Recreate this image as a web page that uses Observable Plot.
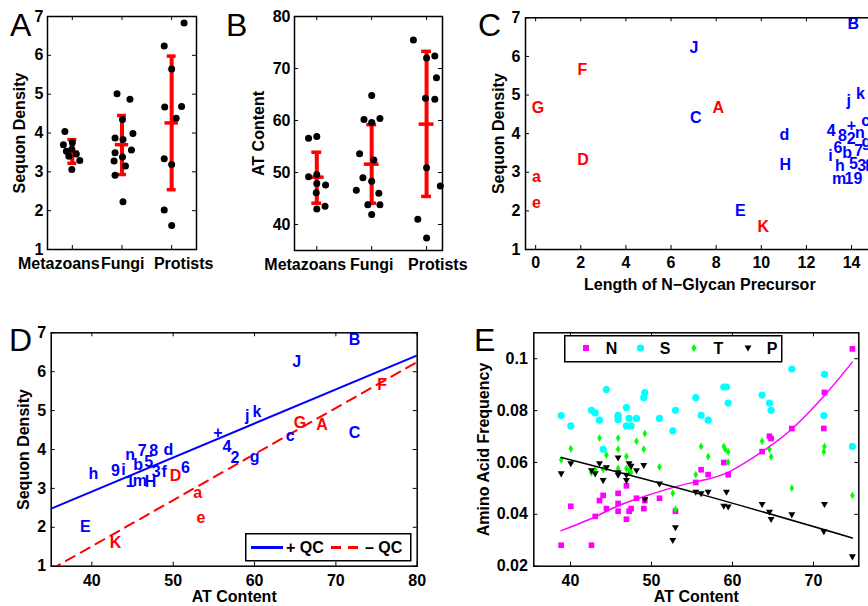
<!DOCTYPE html>
<html>
<head>
<meta charset="utf-8">
<script src="https://cdn.jsdelivr.net/npm/d3@7"></script>
<script src="https://cdn.jsdelivr.net/npm/@observablehq/plot@0.6"></script>
<style>
html,body{margin:0;padding:0;background:#fff;overflow:hidden}
#fig{position:relative;width:868px;height:606px;overflow:hidden;background:#fff;font-family:"Liberation Sans",Arial,Helvetica,sans-serif}
.panel{position:absolute}
.letter{position:absolute;font-size:32px;line-height:32px;font-weight:normal;color:#000}
.legend{position:absolute}
</style>
</head>
<body>
<div id="fig">
  <div class="panel" id="pA" style="left:0;top:0;width:220px;height:300px"></div>
  <div class="panel" id="pB" style="left:220px;top:0;width:240px;height:300px"></div>
  <div class="panel" id="pC" style="left:460px;top:0;width:420px;height:300px"></div>
  <div class="panel" id="pD" style="left:0;top:300px;width:430px;height:306px"></div>
  <div class="panel" id="pE" style="left:430px;top:300px;width:438px;height:306px"></div>
  <div class="letter" style="left:10px;top:9px">A</div>
  <div class="letter" style="left:226px;top:9px">B</div>
  <div class="letter" style="left:478px;top:9px">C</div>
  <div class="letter" style="left:9px;top:324px">D</div>
  <div class="letter" style="left:474px;top:324px">E</div>
  <svg class="legend" style="left:245px;top:533px" width="167" height="29">
    <rect x="0.75" y="0.75" width="165" height="27" fill="#fff" stroke="#000" stroke-width="1.5"/>
    <line x1="6" x2="38" y1="14.5" y2="14.5" stroke="#0000ff" stroke-width="3"/>
    <text x="41" y="20" font-family="Liberation Sans, Arial, sans-serif" font-size="16" font-weight="bold">+ QC</text>
    <line x1="86" x2="118" y1="14.5" y2="14.5" stroke="#ff0000" stroke-width="3" stroke-dasharray="10,7"/>
    <text x="120" y="20" font-family="Liberation Sans, Arial, sans-serif" font-size="16" font-weight="bold">– QC</text>
  </svg>
  <svg class="legend" style="left:564px;top:335px" width="220" height="28">
    <rect x="0.75" y="0.75" width="217" height="26" fill="#fff" stroke="#000" stroke-width="1.5"/>
    <rect x="19" y="10" width="6" height="6" fill="#ff00ff"/>
    <text x="47.5" y="19" text-anchor="middle" font-family="Liberation Sans, Arial, sans-serif" font-size="16" font-weight="bold">N</text>
    <circle cx="76.5" cy="13" r="3.6" fill="#00ffff"/>
    <text x="101" y="19" text-anchor="middle" font-family="Liberation Sans, Arial, sans-serif" font-size="16" font-weight="bold">S</text>
    <polygon points="130,9 132.6,13 130,17 127.4,13" fill="#00ff00"/>
    <text x="154.5" y="19" text-anchor="middle" font-family="Liberation Sans, Arial, sans-serif" font-size="16" font-weight="bold">T</text>
    <polygon points="180.5,10.5 187.5,10.5 184,16.5" fill="#000"/>
    <text x="208" y="19" text-anchor="middle" font-family="Liberation Sans, Arial, sans-serif" font-size="16" font-weight="bold">P</text>
  </svg>
</div>
<script>
// ---------- Panel A: Sequon density by group ----------
const groups = ["Metazoans", "Fungi", "Protists"];
const groupPos = [1, 2, 3];
const aDotX = [0.85,0.82,1.00,0.88,0.99,1.08,0.93,1.15,0.99,
               1.90,2.16,2.01,1.86,2.02,2.22,1.86,2.19,2.01,1.84,2.07,1.86,2.02,
               3.25,2.85,3.00,2.86,3.20,3.09,2.85,3.00,2.85,3.00];
const aDotY = [4.04,3.70,3.75,3.53,3.58,3.46,3.40,3.29,3.06,
               5.01,4.87,4.35,3.87,3.83,3.99,3.49,3.56,3.38,3.28,3.15,2.91,2.23,
               6.83,6.24,5.65,4.67,4.68,4.38,3.34,3.19,2.02,1.62];
const aMean = [3.51, 3.70, 4.26];
const aLow  = [3.22, 2.93, 2.54];
const aHigh = [3.83, 4.45, 5.98];
const aTicks = [1, 2, 3, 4, 5, 6, 7];

// ---------- Panel B: AT content by group ----------
const bDotX = [0.85,1.00,0.85,1.00,1.00,1.16,0.99,1.00,1.15,
               2.00,1.86,2.00,2.15,1.78,2.04,1.84,2.00,1.72,2.13,1.93,2.15,2.00,
               2.76,3.00,3.15,3.18,2.98,3.15,3.00,3.25,2.84,3.00];
const bDotY = [56.6,56.9,49.2,49.6,47.9,47.6,46.1,43.0,43.5,
               64.8,60.2,59.6,60.4,53.6,52.4,49.0,48.3,46.6,46.0,43.8,43.8,41.9,
               75.5,72.0,72.4,68.2,64.3,64.1,50.9,47.4,41.0,37.4];
const bMean = [49.1, 51.6, 59.3];
const bLow  = [44.1, 44.1, 45.4];
const bHigh = [53.9, 59.2, 73.3];
const bTicks = [40, 50, 60, 70, 80];

// ---------- Panel C: glycan precursor length vs sequon density ----------
const cLabel = ["G","a","e","F","D","A","K",
                "J","C","E","d","H","B","j","k","c","4","8","+","n","2","g","6","b","7","i","h","5","3","f","m","1","9"];
const cX = [0.10,0.04,0.04,2.07,2.10,8.09,10.09,
            7.02,7.10,9.07,11.02,11.06,14.08,13.88,14.40,14.63,13.10,13.60,14.00,14.37,13.99,14.66,13.40,13.80,14.32,13.07,13.48,14.08,14.45,14.70,13.45,13.88,14.28];
const cY = [4.67,2.87,2.21,5.65,3.33,4.66,1.59,
            6.21,4.40,2.01,3.97,3.18,6.83,4.86,5.03,4.34,4.06,3.95,4.21,4.01,3.87,3.78,3.63,3.49,3.56,3.42,3.17,3.23,3.17,3.17,2.83,2.83,2.83];
const cGroup = ["-","-","-","-","-","-","-",
                "+","+","+","+","+","+","+","+","+","+","+","+","+","+","+","+","+","+","+","+","+","+","+","+","+","+"];
const cXTicks = [0, 2, 4, 6, 8, 10, 12, 14];

// ---------- Panel D: AT content vs sequon density ----------
const dLabel = ["B","J","j","k","+","4","2","g","c","C","n","7","8","d","h","9","i","b","5","3","f","6","1","m","H","E",
                "G","A","F","D","K","a","e"];
const dX = [72.3,65.2,59.1,60.3,55.5,56.6,57.6,60.0,64.4,72.3,44.7,46.2,47.6,49.4,40.2,42.9,43.9,45.7,47.0,47.9,48.9,51.5,44.7,45.9,47.2,39.2,
            65.6,68.3,75.7,50.3,42.9,53.0,53.4];
const dY = [6.83,6.26,4.87,4.98,4.43,4.06,3.78,3.80,4.36,4.43,3.87,3.96,3.96,3.98,3.38,3.44,3.48,3.61,3.68,3.42,3.42,3.53,3.16,3.20,3.16,2.00,
            4.69,4.64,5.65,3.33,1.60,2.89,2.24];
const dGroup = ["+","+","+","+","+","+","+","+","+","+","+","+","+","+","+","+","+","+","+","+","+","+","+","+","+","+",
                "-","-","-","-","-","-","-"];
const dFitX = [35, 80];
const dFitPlus = [2.48, 6.42];
const dFitMinus = [0.92, 6.25];
const dXTicks = [40, 50, 60, 70, 80];

// ---------- Panel E: amino acid frequency vs AT content ----------
const eNx = [38.85,40.04,42.59,43.05,43.58,44.03,44.44,45.88,45.88,45.88,46.91,46.91,47.24,47.49,48.15,49.05,49.18,50.99,52.96,55.47,56.13,57.00,58.93,59.47,63.66,64.57,64.77,67.33,71.28,71.36,74.81];
const eNy = [0.0281,0.0431,0.0281,0.0392,0.0453,0.0473,0.0422,0.0481,0.0442,0.0412,0.0510,0.0381,0.0412,0.0422,0.0462,0.0422,0.0453,0.0462,0.0412,0.0523,0.0572,0.0553,0.0600,0.0553,0.0642,0.0701,0.0692,0.0731,0.0731,0.0870,0.1038];
const eSx = [38.85,40.04,42.59,43.05,43.58,44.44,44.03,45.88,45.88,45.88,46.91,47.24,46.91,47.49,48.15,49.18,49.05,50.99,52.63,52.96,55.47,56.13,57.00,58.93,59.26,59.47,63.66,64.57,64.77,67.33,71.36,71.28,74.81];
const eSy = [0.0781,0.0741,0.0801,0.0791,0.0763,0.0881,0.0651,0.0774,0.0765,0.0782,0.0812,0.0770,0.0741,0.0741,0.0770,0.0869,0.0850,0.0770,0.0722,0.0801,0.0850,0.0782,0.0763,0.0891,0.0891,0.0829,0.0860,0.0829,0.0801,0.0960,0.0940,0.0781,0.0662];
const eTx = [38.85,40.04,42.59,43.05,43.58,44.03,44.44,45.88,45.88,45.88,46.91,46.91,47.24,47.49,48.15,49.18,49.05,50.99,52.63,52.96,55.47,56.13,57.00,58.93,59.10,59.47,59.47,63.66,64.57,64.77,67.33,71.28,71.36,74.81];
const eTy = [0.0610,0.0653,0.0560,0.0573,0.0694,0.0573,0.0629,0.0694,0.0651,0.0577,0.0623,0.0577,0.0570,0.0562,0.0682,0.0712,0.0651,0.0583,0.0481,0.0420,0.0553,0.0662,0.0623,0.0662,0.0651,0.0641,0.0601,0.0682,0.0651,0.0622,0.0501,0.0641,0.0662,0.0473];
const ePx = [38.85,40.04,42.59,43.05,43.58,44.03,44.44,45.88,45.88,45.88,46.91,46.91,47.24,47.49,48.15,49.05,49.18,50.99,52.63,52.96,55.47,56.13,57.00,58.93,59.26,59.47,63.66,64.57,64.77,67.33,71.28,71.36,74.81];
const ePy = [0.0558,0.0597,0.0570,0.0558,0.0597,0.0532,0.0581,0.0619,0.0562,0.0553,0.0553,0.0532,0.0597,0.0587,0.0570,0.0590,0.0459,0.0519,0.0301,0.0350,0.0487,0.0481,0.0487,0.0433,0.0487,0.0430,0.0440,0.0410,0.0382,0.0400,0.0335,0.0440,0.0238];
const eFitNx = [38.85,42.85,45.9,49.0,52.7,56.0,59.5,63.9,67.3,71.3,74.8];
const eFitNy = [0.0337,0.0388,0.0433,0.0468,0.0504,0.0529,0.0563,0.0647,0.0728,0.0856,0.0987];
const eFitPx = [38.85,56.0,74.8];
const eFitPy = [0.0619,0.0478,0.0309];
const eXTicks = [40, 50, 60, 70];
const eYTicks = [0.02, 0.04, 0.06, 0.08, 0.1];

// ---------- helpers ----------
const FONT = '"Liberation Sans", Arial, Helvetica, sans-serif';
const baseStyle = {fontFamily: FONT, fontSize: "16px", fontWeight: "bold", background: "transparent", overflow: "visible", color: "#000"};
const axisFont = {fontFamily: FONT, fontSize: 16, fontWeight: "bold"};
const fmt = d => String(d);
const BLUE = "#0000ff", RED = "#ff0000";

function inwardTicks(xt, yt, fw, fh, len = 4) {
  return [
    Plot.tickX(xt, {x: d => d, insetTop: fh - len, strokeWidth: 1}),
    Plot.tickX(xt, {x: d => d, insetBottom: fh - len, strokeWidth: 1}),
    Plot.tickY(yt, {y: d => d, insetRight: fw - len, strokeWidth: 1}),
    Plot.tickY(yt, {y: d => d, insetLeft: fw - len, strokeWidth: 1})
  ];
}

function groupPanel({el, width, height, ml, mr, mt, mb, xDomain, yDomain, yTicks, dotX, dotY, mean, low, high, ylabel, labelOffset, labelShift}) {
  const fw = width - ml - mr, fh = height - mt - mb;
  const capHalf = 0.09, meanHalf = 0.135;
  const bars = groupPos.map((g, i) => ({g, mean: mean[i], low: low[i], high: high[i]}));
  const chart = Plot.plot({
    width, height, marginLeft: ml, marginRight: mr, marginTop: mt, marginBottom: mb,
    style: baseStyle,
    x: {domain: xDomain},
    y: {domain: yDomain},
    marks: [
      Plot.ruleX(bars, {x: "g", y1: "low", y2: "high", stroke: RED, strokeWidth: 4}),
      Plot.ruleY(bars, {y: "high", x1: d => d.g - capHalf, x2: d => d.g + capHalf, stroke: RED, strokeWidth: 3.5}),
      Plot.ruleY(bars, {y: "low", x1: d => d.g - capHalf, x2: d => d.g + capHalf, stroke: RED, strokeWidth: 3.5}),
      Plot.ruleY(bars, {y: "mean", x1: d => d.g - meanHalf, x2: d => d.g + meanHalf, stroke: RED, strokeWidth: 3.5}),
      Plot.dot(dotX, {x: dotX, y: dotY, r: 3.5, fill: "#000", stroke: "none"}),
      ...inwardTicks(groupPos, yTicks, fw, fh),
      Plot.axisY({...axisFont, ticks: yTicks, tickFormat: fmt, tickSize: 0, tickPadding: 4, label: ylabel, labelAnchor: "center", labelOffset, labelArrow: "none"}),
      ...groupPos.map((g, i) =>
        Plot.axisX({...axisFont, ticks: [g], tickFormat: d => groups[d - 1], tickSize: 0, tickPadding: 8, dx: labelShift[i], label: null})),
      Plot.frame({strokeWidth: 1.5})
    ]
  });
  document.getElementById(el).append(chart);
}

groupPanel({el: "pA", width: 220, height: 300, ml: 47, mr: 24, mt: 16, mb: 51,
  xDomain: [0.5, 3.5], yDomain: [1, 7], yTicks: aTicks, dotX: aDotX, dotY: aDotY,
  mean: aMean, low: aLow, high: aHigh, ylabel: "Sequon Density", labelOffset: 33.5, labelShift: [-13.5, 0.7, 12]});

groupPanel({el: "pB", width: 240, height: 300, ml: 74, mr: 18, mt: 16, mb: 50,
  xDomain: [0.594, 3.29], yDomain: [35, 80], yTicks: bTicks, dotX: bDotX, dotY: bDotY,
  mean: bMean, low: bLow, high: bHigh, ylabel: "AT Content", labelOffset: 42, labelShift: [-11.6, 0, 11.2]});

// Panel C
{
  const width = 420, height = 300, ml = 65, mr = 6.4, mt = 17.3, mb = 51;
  const fw = width - ml - mr, fh = height - mt - mb;
  const chart = Plot.plot({
    width, height, marginLeft: ml, marginRight: mr, marginTop: mt, marginBottom: mb,
    style: baseStyle,
    x: {domain: [-0.45, 15]},
    y: {domain: [1, 7]},
    marks: [
      Plot.text(cLabel, {x: cX, y: cY, text: cLabel, fill: cGroup.map(g => g === "+" ? BLUE : RED), fontSize: 16, fontWeight: "bold", fontFamily: FONT}),
      ...inwardTicks(cXTicks, aTicks, fw, fh),
      Plot.axisY({...axisFont, ticks: aTicks, tickFormat: fmt, tickSize: 0, tickPadding: 5, label: "Sequon Density", labelAnchor: "center", labelOffset: 33.3, labelArrow: "none"}),
      Plot.axisX({...axisFont, ticks: cXTicks, tickFormat: fmt, tickSize: 0, tickPadding: 7.5, label: "Length of N−Glycan Precursor", labelAnchor: "center", labelOffset: 40, labelArrow: "none"}),
      Plot.frame({strokeWidth: 1.5})
    ]
  });
  document.getElementById("pC").append(chart);
}

// Panel D
{
  const width = 430, height = 306, ml = 50.7, mr = 13.3, mt = 32.3, mb = 40.3;
  const fw = width - ml - mr, fh = height - mt - mb;
  const chart = Plot.plot({
    width, height, marginLeft: ml, marginRight: mr, marginTop: mt, marginBottom: mb,
    style: baseStyle,
    x: {domain: [35, 80]},
    y: {domain: [1, 7]},
    marks: [
      Plot.line(dFitX, {x: dFitX, y: dFitPlus, stroke: BLUE, strokeWidth: 2, clip: true}),
      Plot.line(dFitX, {x: dFitX, y: dFitMinus, stroke: RED, strokeWidth: 2, strokeDasharray: "10,7", clip: true}),
      Plot.text(dLabel, {x: dX, y: dY, text: dLabel, fill: dGroup.map(g => g === "+" ? BLUE : RED), fontSize: 16, fontWeight: "bold", fontFamily: FONT}),
      ...inwardTicks(dXTicks, aTicks, fw, fh),
      Plot.axisY({...axisFont, ticks: aTicks, tickFormat: fmt, tickSize: 0, tickPadding: 5, label: "Sequon Density", labelAnchor: "center", labelOffset: 34, labelArrow: "none"}),
      Plot.axisX({...axisFont, ticks: dXTicks, tickFormat: fmt, tickSize: 0, tickPadding: 8, label: "AT Content", labelAnchor: "center", labelOffset: 36, labelArrow: "none"}),
      Plot.frame({strokeWidth: 1.5})
    ]
  });
  document.getElementById("pD").append(chart);
}

// Panel E
{
  const width = 438, height = 306, ml = 103.3, mr = 9.7, mt = 32.3, mb = 40.3;
  const fw = width - ml - mr, fh = height - mt - mb;
  const chart = Plot.plot({
    width, height, marginLeft: ml, marginRight: mr, marginTop: mt, marginBottom: mb,
    style: baseStyle,
    x: {domain: [35.47, 75.6]},
    y: {domain: [0.02, 0.11]},
    marks: [
      Plot.dot(eNx, {x: eNx, y: eNy, symbol: "square", r: 3.2, fill: "#ff00ff", stroke: "none"}),
      Plot.dot(eSx, {x: eSx, y: eSy, symbol: "circle", r: 3.6, fill: "#00ffff", stroke: "none"}),
      Plot.dot(eTx, {x: eTx, y: eTy, symbol: "diamond", r: 2.4, fill: "#00ff00", stroke: "none"}),
      Plot.dot(ePx, {x: ePx, y: ePy, symbol: "triangle", rotate: 180, r: 2.6, fill: "#000", stroke: "none"}),
      Plot.line(eFitNx, {x: eFitNx, y: eFitNy, stroke: "#ff00ff", strokeWidth: 1.5, curve: "natural"}),
      Plot.line(eFitPx, {x: eFitPx, y: eFitPy, stroke: "#000", strokeWidth: 1.5, curve: "natural"}),
      ...inwardTicks(eXTicks, eYTicks, fw, fh),
      Plot.axisY({...axisFont, ticks: eYTicks, tickFormat: fmt, tickSize: 0, tickPadding: 6, label: "Amino Acid Frequency", labelAnchor: "center", labelOffset: 56.6, labelArrow: "none"}),
      Plot.axisX({...axisFont, ticks: eXTicks, tickFormat: fmt, tickSize: 0, tickPadding: 8, label: "AT Content", labelAnchor: "center", labelOffset: 36, labelArrow: "none"}),
      Plot.frame({strokeWidth: 1.5})
    ]
  });
  document.getElementById("pE").append(chart);
}
</script>
</body>
</html>
